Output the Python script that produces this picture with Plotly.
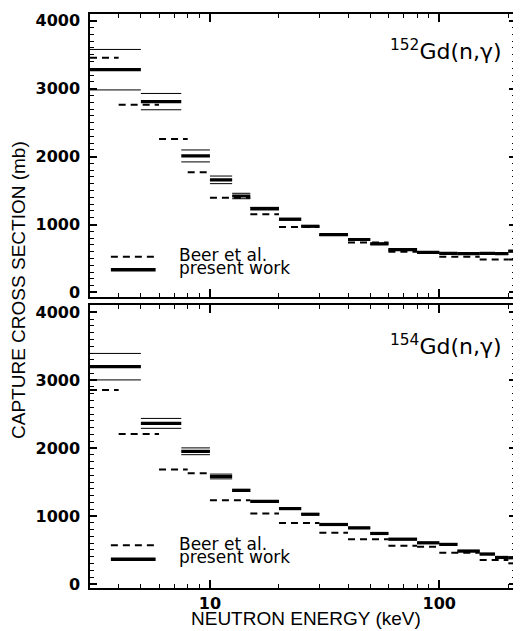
import math
import plotly.graph_objects as go

# ---------------- data ----------------
# energy bins of the present measurement (keV)
bin_lo = [3, 5, 7.5, 10, 12.5, 15, 20, 25, 30, 40, 50, 60, 80, 100, 120, 150, 175, 200]
bin_hi = [5, 7.5, 10, 12.5, 15, 20, 25, 30, 40, 50, 60, 80, 100, 120, 150, 175, 200, 225]

# 152Gd(n,gamma) present work (mb) and uncertainties (mb)
gd152_present = [3280, 2810, 2010, 1658, 1420, 1235, 1078, 975, 850, 780, 716, 630, 590, 576, 572, 576, 572, 608]
gd152_error = [298, 120, 88, 56, 40, 18, 15, 12, 12, 10, 10, 10, 10, 10, 10, 10, 10, 10]

# 154Gd(n,gamma) present work (mb) and uncertainties (mb)
gd154_present = [3199, 2364, 1953, 1582, 1377, 1216, 1109, 1026, 875, 825, 743, 659, 605, 582, 484, 440, 390, 385]
gd154_error = [195, 73, 50, 35, 15, 12, 12, 10, 10, 10, 10, 10, 10, 10, 10, 10, 10, 10]

# Beer et al. energy bins (keV) and values (mb)
beer_lo = [3, 4, 6, 8, 10, 15, 20, 30, 40, 60, 80, 100, 150, 200]
beer_hi = [4, 6, 8, 10, 15, 20, 30, 40, 60, 80, 100, 150, 200, 225]
gd152_beer = [3456, 2763, 2259, 1771, 1394, 1151, 965, 845, 735, 599, 585, 526, 486, 486]
gd154_beer = [2857, 2208, 1685, 1631, 1231, 1036, 898, 752, 659, 561, 547, 459, 352, 303]

panel_labels = ["<sup>152</sup>Gd(n,\u03b3)", "<sup>154</sup>Gd(n,\u03b3)"]
legend_labels = ["Beer et al.", "present work"]
x_tick_vals = [10, 100]
x_minor_vals = [3, 4, 5, 6, 7, 8, 9, 20, 30, 40, 50, 60, 70, 80, 90, 200]


def steps(lo, hi, vals, err=None, sign=0):
    xs, ys = [], []
    for i, (a, b, v) in enumerate(zip(lo, hi, vals)):
        d = 0 if err is None else sign * err[i]
        xs += [a, b, None]
        ys += [v + d, v + d, None]
    return xs, ys


fig = go.Figure()

panels = [
    (gd152_present, gd152_error, gd152_beer, "x", "y"),
    (gd154_present, gd154_error, gd154_beer, "x2", "y2"),
]
for pres, err, beer, xa, ya in panels:
    for sgn in (1, -1):
        xs, ys = steps(bin_lo, bin_hi, pres, err, sgn)
        fig.add_trace(go.Scatter(x=xs, y=ys, mode="lines", xaxis=xa, yaxis=ya,
                                 line=dict(color="black", width=1), showlegend=False,
                                 hoverinfo="skip"))
    xs, ys = steps(bin_lo, bin_hi, pres)
    fig.add_trace(go.Scatter(x=xs, y=ys, mode="lines", xaxis=xa, yaxis=ya,
                             line=dict(color="black", width=3.2), name=legend_labels[1],
                             showlegend=False))
    xs, ys = steps(beer_lo, beer_hi, beer)
    fig.add_trace(go.Scatter(x=xs, y=ys, mode="lines", xaxis=xa, yaxis=ya,
                             line=dict(color="black", width=2, dash="7px,5px"),
                             name=legend_labels[0], showlegend=False))

tickfont = dict(family="DejaVu Sans", size=16, color="black", weight="bold")
xcommon = dict(type="log", range=[math.log10(3), math.log10(216)],
               showgrid=False, zeroline=False, showline=True, linecolor="black",
               linewidth=1.5, mirror="allticks", ticks="inside", ticklen=8,
               tickwidth=1.5, tickcolor="black", tickmode="array",
               tickvals=x_tick_vals, ticktext=[str(v) for v in x_tick_vals],
               tickfont=tickfont,
               minor=dict(ticks="inside", ticklen=4, tickwidth=1, tickcolor="black",
                          tickmode="array", tickvals=x_minor_vals))
ycommon = dict(range=[-60, 4100], showgrid=False, zeroline=False, showline=True,
               linecolor="black", linewidth=1.5, mirror="allticks", ticks="inside",
               ticklen=7, tickwidth=1.5, tickcolor="black", tickmode="linear",
               tick0=0, dtick=1000, tickfont=tickfont, ticklabelstandoff=5,
               minor=dict(ticks="inside", ticklen=4, tickwidth=1, tickcolor="black",
                          tickmode="linear", tick0=0, dtick=100))

top_dom = [(588 - 295) / 577, 1.0]
bot_dom = [0.0, (588 - 304) / 577]

# the page body adds an 8px margin, so the figure is sized/offset to compensate
fig.update_layout(
    width=513, height=623,
    margin=dict(l=82, r=3, t=3, b=43),
    plot_bgcolor="white", paper_bgcolor="white",
    showlegend=False,
    xaxis=dict(xcommon, anchor="y", showticklabels=False),
    yaxis=dict(ycommon, domain=top_dom, anchor="x"),
    xaxis2=dict(xcommon, anchor="y2"),
    yaxis2=dict(ycommon, domain=bot_dom, anchor="x2"),
)

ann_font = dict(family="DejaVu Sans", size=17, color="black")
title_font = dict(family="Liberation Sans", size=19, color="black")
annotations = []
shapes = []
for k, (yref, label) in enumerate([("y domain", panel_labels[0]), ("y2 domain", panel_labels[1])]):
    xref = "x domain" if k == 0 else "x2 domain"
    annotations.append(dict(text=label, xref=xref, yref=yref, x=0.972,
                            y=0.872 if k == 0 else 0.86,
                            xanchor="right", yanchor="middle", showarrow=False,
                            font=dict(family="DejaVu Sans", size=22, color="black")))
    ty = [0.148, 0.100] if k == 0 else [0.157, 0.109]
    ky = [0.141, 0.095] if k == 0 else [0.151, 0.102]
    for j in range(2):
        annotations.append(dict(text=legend_labels[j], xref=xref, yref=yref, x=0.2033,
                                y=ty[j], xanchor="left", yanchor="middle",
                                showarrow=False, font=ann_font))
    shapes.append(dict(type="line", xref=xref, yref=yref, x0=0.049, x1=0.154,
                       y0=ky[0], y1=ky[0], line=dict(color="black", width=2, dash="7px,5px")))
    shapes.append(dict(type="line", xref=xref, yref=yref, x0=0.049, x1=0.154,
                       y0=ky[1], y1=ky[1], line=dict(color="black", width=3.5)))

annotations.append(dict(text="CAPTURE CROSS SECTION (mb)", xref="paper", yref="paper",
                        x=-0.168, y=0.52, textangle=-90, xanchor="center",
                        yanchor="middle", showarrow=False, font=title_font))
annotations.append(dict(text="NEUTRON ENERGY (keV)", xref="paper", yref="paper",
                        x=0.506, y=-0.054, xanchor="center", yanchor="middle",
                        showarrow=False, font=title_font))
fig.update_layout(annotations=annotations, shapes=shapes)

fig.write_html("out.html")
